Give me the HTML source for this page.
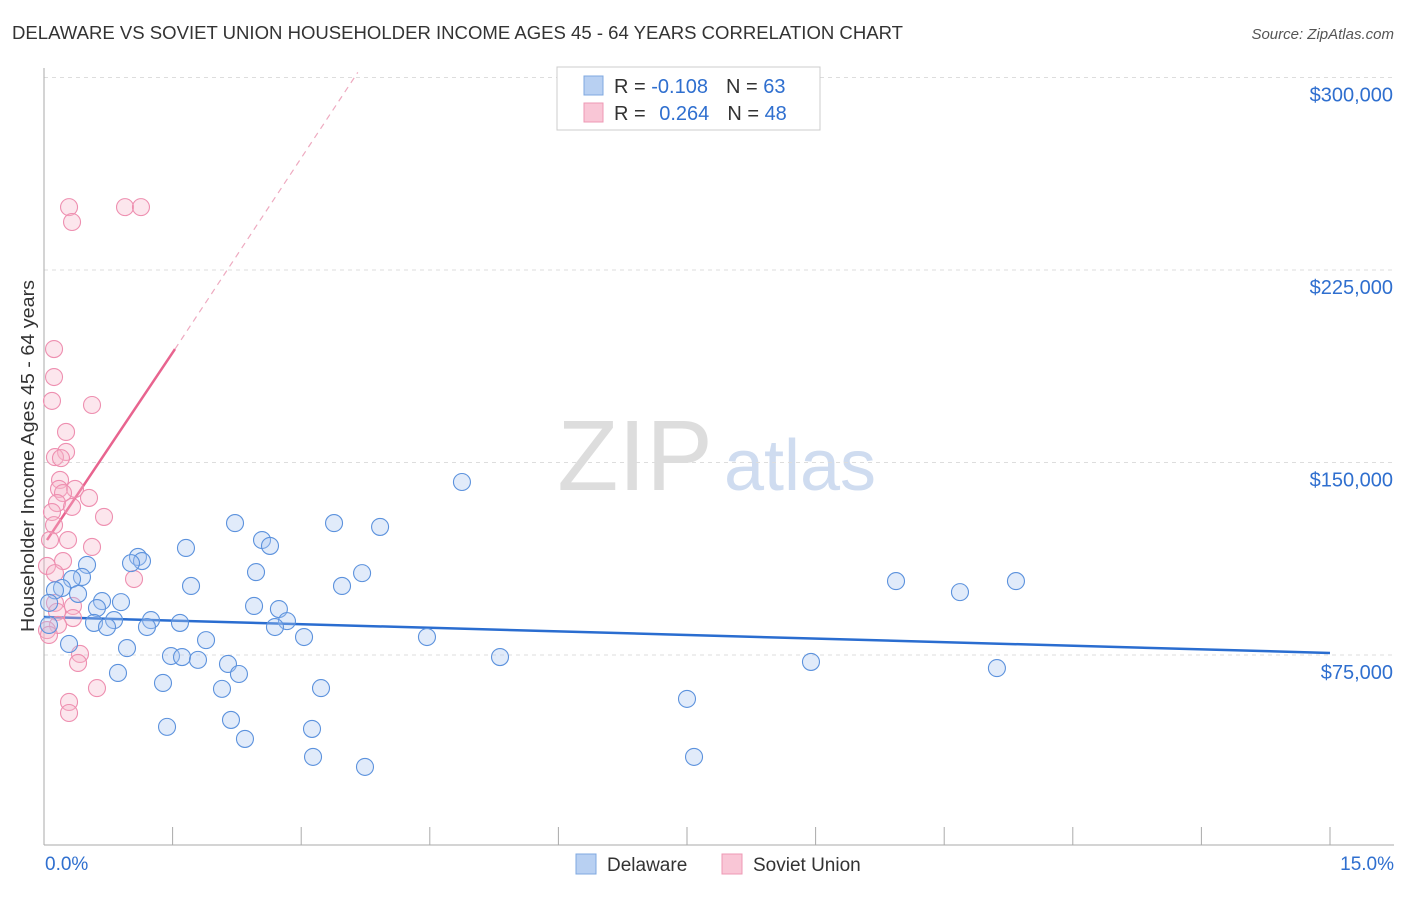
<!DOCTYPE html>
<html><head><meta charset="utf-8">
<style>
body{margin:0;background:#fff;font-family:"Liberation Sans",sans-serif;}
svg text{font-family:"Liberation Sans",sans-serif;}
</style></head>
<body>
<svg id="chart" width="1406" height="892" viewBox="0 0 1406 892">
<text x="12" y="39" font-size="18" fill="#333" textLength="891" lengthAdjust="spacingAndGlyphs">DELAWARE VS SOVIET UNION HOUSEHOLDER INCOME AGES 45 - 64 YEARS CORRELATION CHART</text>
<text x="1394" y="39" font-size="15" fill="#555" font-style="italic" text-anchor="end">Source: ZipAtlas.com</text>
<text x="34" y="456" font-size="18" fill="#333" text-anchor="middle" textLength="352" lengthAdjust="spacingAndGlyphs" transform="rotate(-90 34 456)">Householder Income Ages 45 - 64 years</text>
<g>
<text x="635" y="490" font-size="100" fill="#ddd" font-family="Liberation Serif" text-anchor="middle">ZIP</text>
<text x="800" y="490" font-size="72" fill="#cfdcf0" text-anchor="middle">atlas</text>
</g>
<g id="grid"></g>
<g id="axes"></g>
<g id="lines"></g>
<g id="points"></g>
<g>
<rect x="557" y="67" width="263" height="63" fill="#fff" stroke="#ccc"/>
<rect x="584" y="76" width="19" height="19" fill="#b8d0f2" stroke="#7fa8e0"/>
<rect x="584" y="103" width="19" height="19" fill="#f9c6d6" stroke="#ee98b4"/>
<text x="614" y="93" font-size="20" fill="#333">R = <tspan fill="#2f6fcf">-0.108</tspan><tspan dx="18">N = </tspan><tspan fill="#2f6fcf">63</tspan></text>
<text x="614" y="120" font-size="20" fill="#333">R = <tspan fill="#2f6fcf" dx="8">0.264</tspan><tspan dx="18">N = </tspan><tspan fill="#2f6fcf">48</tspan></text>
</g>
<g>
<rect x="576" y="854" width="20" height="20" fill="#b8d0f2" stroke="#7fa8e0"/>
<text x="607" y="871" font-size="19" fill="#333">Delaware</text>
<rect x="722" y="854" width="20" height="20" fill="#f9c6d6" stroke="#ee98b4"/>
<text x="753" y="871" font-size="19" fill="#333">Soviet Union</text>
</g>
</svg>
<script>
const yTicks=[75000,150000,225000,300000];
const yTickLabels=["$75,000","$150,000","$225,000","$300,000"];
const xTicks=[0,1.5,3,4.5,6,7.5,9,10.5,12,13.5,15];
const delX=[4.875,2.228,3.383,3.92,2.543,2.636,1.656,1.096,1.143,1.015,0.502,2.473,3.71,0.443,0.327,9.938,11.337,1.715,3.476,0.21,0.128,10.684,0.397,0.677,0.898,0.618,2.45,2.74,0.06,1.248,0.817,2.834,0.583,1.586,0.735,1.201,2.694,0.058,3.033,1.89,4.467,0.292,0.968,1.481,1.61,1.796,5.319,2.146,8.946,11.115,0.863,2.274,1.388,2.076,3.231,7.5,2.181,1.435,3.126,2.344,3.138,7.582,3.744];
const delY=[142.4,126.4,126.4,124.9,119.8,117.5,116.7,113.2,111.6,110.8,110.1,107.3,106.9,105.4,104.6,103.8,103.8,101.9,101.9,101.1,100.2,99.5,98.8,96.0,95.6,93.3,94.1,92.9,95.3,88.6,88.6,88.2,87.5,87.5,85.9,85.9,85.9,86.7,82.0,80.8,82.0,79.3,77.7,74.6,74.2,73.1,74.2,71.5,72.3,69.9,68.0,67.6,64.1,61.8,62.1,57.9,49.7,47.0,46.2,42.3,35.3,35.3,31.4];
const sovX=[0.292,0.945,1.131,0.327,0.117,0.117,0.093,0.56,0.257,0.257,0.128,0.198,0.187,0.175,0.362,0.222,0.525,0.152,0.327,0.093,0.7,0.117,0.07,0.28,0.56,0.222,0.035,0.128,1.05,0.128,0.338,0.152,0.338,0.163,0.035,0.058,0.42,0.397,0.618,0.292,0.292];
const sovY=[249.5,249.5,249.5,243.7,194.2,183.3,174.0,172.4,161.9,154.1,152.1,151.7,143.2,139.7,139.7,138.1,136.2,134.2,132.7,130.7,128.8,125.6,119.8,119.8,117.1,111.6,109.7,106.9,104.6,95.3,94.1,91.8,89.4,86.7,84.7,82.8,75.4,71.9,62.1,56.7,52.4];
const delTrend=[[0,89.8],[15,75.8]];
const sovSolid=[[0.035,119.8],[1.528,194.2]];
const sovDash=[[1.528,194.2],[3.66,302]];
const NS="http://www.w3.org/2000/svg";
const xs=v=>44+v/15*1286;
const ys=v=>655-(v-75000)*192.5/75000;
function mk(tag,attrs,parent){const e=document.createElementNS(NS,tag);for(const k in attrs)e.setAttribute(k,attrs[k]);document.getElementById(parent).appendChild(e);return e;}
yTicks.forEach((t,i)=>{
 const g=mk('line',{x1:44,x2:1394,y1:ys(t),y2:ys(t),stroke:'#ddd','stroke-dasharray':'4,4'},'grid');
 
 
 const l=mk('text',{x:1393,y:ys(t)+24,'font-size':20,fill:'#2f6fcf','text-anchor':'end'},'axes');
 l.textContent=yTickLabels[i];
 
 
});
const ax=mk('line',{x1:44,x2:44,y1:68,y2:845,stroke:'#aaa'},'axes');


const bx=mk('line',{x1:44,x2:1394,y1:845,y2:845,stroke:'#aaa'},'axes');


xTicks.forEach(t=>{
 const tk=mk('line',{x1:xs(t),x2:xs(t),y1:827,y2:845,stroke:'#aaa'},'axes');
 
 
});
const xl0=mk('text',{x:45,y:870,'font-size':19,fill:'#2f6fcf'},'axes');xl0.textContent='0.0%';


const xl1=mk('text',{x:1394,y:870,'font-size':19,fill:'#2f6fcf','text-anchor':'end'},'axes');xl1.textContent='15.0%';


function pts(X,Y,fill,stroke,name){X.forEach((x,i)=>{
 const c=mk('circle',{cx:xs(x),cy:ys(Y[i]*1000),r:8.5,fill:fill,'fill-opacity':0.35,stroke:stroke,'stroke-width':1.1},'points');
 
 
});}
pts(sovX,sovY,'#f7b6cb','#ee8fb0','soviet-union-point');
pts(delX,delY,'#a9c7f0','#5c92dd','delaware-point');
const tl=mk('line',{x1:xs(delTrend[0][0]),y1:ys(delTrend[0][1]*1000),x2:xs(delTrend[1][0]),y2:ys(delTrend[1][1]*1000),stroke:'#2a6dd0','stroke-width':2.5},'lines');


const sl=mk('line',{x1:xs(sovSolid[0][0]),y1:ys(sovSolid[0][1]*1000),x2:xs(sovSolid[1][0]),y2:ys(sovSolid[1][1]*1000),stroke:'#e8648f','stroke-width':2.5},'lines');


const sd=mk('line',{x1:xs(sovDash[0][0]),y1:ys(sovDash[0][1]*1000),x2:xs(sovDash[1][0]),y2:ys(sovDash[1][1]*1000),stroke:'#eeaac0','stroke-width':1.2,'stroke-dasharray':'6,5'},'lines');


</script>
</body></html>
